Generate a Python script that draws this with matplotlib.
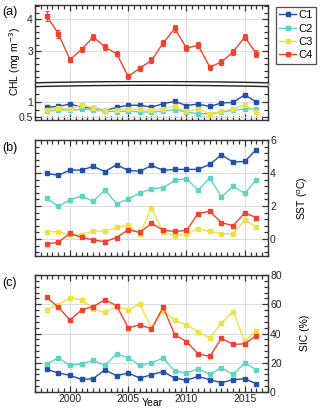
import numpy as np
import matplotlib
matplotlib.use("Agg")
import matplotlib.pyplot as plt
from matplotlib.ticker import MultipleLocator, FixedLocator

plt.rcParams['font.family'] = ['Liberation Sans', 'DejaVu Sans']

years = list(range(1998, 2017))
series_names = ["C1", "C2", "C3", "C4"]
colors = {"C1": "#2251a8", "C2": "#5fd4c2", "C3": "#efe044", "C4": "#f0432e"}

# (a) Chlorophyll (mg m-3)
chl_c1 = [0.83, 0.85, 0.93, 0.83, 0.80, 0.72, 0.82, 0.89, 0.89, 0.83, 0.94, 1.01, 0.88, 0.93, 0.85, 0.96, 0.98, 1.22, 0.99]
chl_c2 = [0.70, 0.75, 0.73, 0.76, 0.75, 0.70, 0.69, 0.70, 0.68, 0.67, 0.70, 0.75, 0.67, 0.62, 0.62, 0.67, 0.73, 0.77, 0.78]
chl_c3 = [0.75, 0.81, 0.76, 0.90, 0.80, 0.71, 0.75, 0.77, 0.76, 0.73, 0.78, 0.85, 0.70, 0.77, 0.62, 0.70, 0.77, 0.91, 0.68]
chl_c4 = [4.10, 3.55, 2.74, 3.06, 3.45, 3.13, 2.93, 2.22, 2.48, 2.72, 3.26, 3.71, 3.10, 3.19, 2.51, 2.67, 2.98, 3.45, 2.93]
chl_c4_err = [0.15, 0.12, 0.08, 0.08, 0.10, 0.10, 0.09, 0.07, 0.08, 0.09, 0.10, 0.12, 0.10, 0.10, 0.08, 0.08, 0.09, 0.10, 0.10]

# (b) SST (degC)
sst_c1 = [3.98, 3.86, 4.18, 4.18, 4.40, 4.08, 4.50, 4.16, 4.10, 4.46, 4.16, 4.22, 4.22, 4.22, 4.52, 5.10, 4.66, 4.70, 5.42]
sst_c2 = [2.48, 1.97, 2.38, 2.60, 2.28, 2.98, 2.14, 2.42, 2.78, 3.06, 3.10, 3.56, 3.66, 2.96, 3.70, 2.56, 3.20, 2.76, 3.60]
sst_c3 = [0.44, 0.44, 0.24, 0.26, 0.48, 0.48, 0.70, 0.82, 0.32, 1.88, 0.40, 0.20, 0.30, 0.62, 0.46, 0.32, 0.32, 1.16, 0.72]
sst_c4 = [-0.31, -0.20, 0.34, 0.10, -0.06, -0.16, 0.09, 0.56, 0.40, 0.95, 0.53, 0.46, 0.52, 1.54, 1.68, 1.00, 0.80, 1.58, 1.30]

# (c) SIC (%)
sic_c1 = [15.5, 13.0, 11.4, 8.6, 9.1, 15.2, 11.1, 13.0, 9.5, 11.8, 14.0, 9.5, 8.0, 10.7, 8.4, 6.4, 8.4, 9.0, 5.7]
sic_c2 = [19.3, 23.4, 18.2, 19.3, 21.6, 18.2, 26.1, 23.4, 18.2, 20.0, 23.2, 14.3, 13.0, 15.9, 12.0, 16.6, 12.0, 19.8, 15.2]
sic_c3 = [56.1, 59.8, 64.3, 63.0, 56.8, 54.5, 58.4, 56.1, 60.2, 43.5, 55.7, 48.9, 46.1, 40.9, 37.0, 47.0, 55.0, 34.8, 41.6]
sic_c4 = [64.8, 58.0, 49.3, 56.1, 58.4, 63.0, 59.1, 43.9, 45.9, 43.2, 58.0, 39.1, 34.5, 26.1, 24.3, 36.8, 32.5, 33.0, 38.6]

xticks = [2000, 2005, 2010, 2015]

W, H = 321, 408
fig = plt.figure(figsize=(W / 100, H / 100), dpi=100)


def rect(l, t, r, b):
    return [l / W, 1 - b / H, (r - l) / W, (b - t) / H]


L, R = 35, 268
spine_c = "#333333"
grid_c = "#dcdcdc"
fs = 7.5


def style(ax, ymajor, yminor, right_labels=False, xlabels=False):
    ax.set_xlim(1997, 2017)
    ax.xaxis.set_major_locator(FixedLocator(xticks))
    ax.xaxis.set_minor_locator(MultipleLocator(0.5))
    ax.yaxis.set_major_locator(FixedLocator(ymajor))
    ax.yaxis.set_minor_locator(MultipleLocator(yminor))
    ax.tick_params(which="both", direction="in", top=True, right=True, left=True, bottom=True,
                   labelsize=fs, color="#333333", labelcolor="#222222", width=0.9, pad=1.5)
    ax.tick_params(which="major", length=4.5)
    ax.tick_params(which="minor", length=2.8)
    ax.tick_params(axis="y", labelleft=not right_labels, labelright=right_labels)
    ax.tick_params(axis="x", labelbottom=xlabels)
    ax.grid(True, which="major", color=grid_c, lw=0.7)
    ax.set_axisbelow(True)
    for s in ax.spines.values():
        s.set_color(spine_c)
        s.set_linewidth(1.0)


def plot_series(ax, data):
    handles = []
    for name, vals in zip(series_names, data):
        h, = ax.plot(years, vals, color=colors[name], marker="s", ms=2.4, lw=1.0, label=name)
        handles.append(h)
    return handles


# Panel (a) upper and lower (broken axis)
ax_up = fig.add_axes(rect(L, 5, R, 84.5))
ax_lo = fig.add_axes(rect(L, 84.5, R, 120))
style(ax_up, [3, 4], 0.2)
style(ax_lo, [0.5, 1], 0.25)
ax_up.set_ylim(1.97, 4.44)
ax_lo.set_ylim(0.42, 1.55)
ax_up.spines["bottom"].set_visible(False)
ax_lo.spines["top"].set_visible(False)
ax_up.tick_params(which="both", bottom=False)
ax_lo.tick_params(which="both", top=False)
ax_lo.set_yticklabels(["0.5", "1"])

h1, = ax_lo.plot(years, chl_c1, color=colors["C1"], marker="s", ms=2.4, lw=1.0, label="C1")
h2, = ax_lo.plot(years, chl_c2, color=colors["C2"], marker="s", ms=2.4, lw=1.0, label="C2")
h3, = ax_lo.plot(years, chl_c3, color=colors["C3"], marker="s", ms=2.4, lw=1.0, label="C3")
h4, = ax_up.plot(years, chl_c4, color=colors["C4"], marker="s", ms=2.4, lw=1.0, label="C4")
ax_up.errorbar(years, chl_c4, yerr=chl_c4_err, fmt="none", ecolor=colors["C4"], elinewidth=0.8,
               capsize=1.6, capthick=0.8)

# break marks
brk = fig.add_axes(rect(L, 81, R, 88))
brk.set_xlim(0, 1)
brk.set_ylim(88, 81)
brk.axis("off")
xx = np.linspace(0, 1, 100)
bow = 1.3 * (1 - (2 * xx - 1) ** 2)
brk.fill_between(xx, 82.8 - bow, 86.6 - bow, color="white", lw=0)
brk.plot(xx, 82.8 - bow, color="#222222", lw=1.0, solid_capstyle="butt")
brk.plot(xx, 86.6 - bow, color="#222222", lw=1.0, solid_capstyle="butt")
brk.plot([0, 0], [81, 88], color=spine_c, lw=1.0)
brk.plot([1, 1], [81, 88], color=spine_c, lw=1.0)

fig.text(15 / W, 1 - 62 / H, "CHL (mg m$^{-3}$)", rotation=90, ha="center", va="center", fontsize=fs)
fig.text(2 / W, 1 - 12 / H, "(a)", ha="left", va="center", fontsize=9)

leg = fig.legend(handles=[h1, h2, h3, h4], loc="upper left", bbox_to_anchor=(276 / W, 1 - 7 / H),
                 bbox_transform=fig.transFigure, frameon=True, fancybox=False, fontsize=8,
                 handlelength=1.5, handletextpad=0.25, borderpad=0.3, labelspacing=0.3,
                 borderaxespad=0)
leg.get_frame().set_edgecolor("#222222")
leg.get_frame().set_linewidth(0.9)

# Panel (b)
ax_b = fig.add_axes(rect(L, 140, R, 256))
style(ax_b, [0, 2, 4, 6], 0.4, right_labels=True)
ax_b.set_ylim(-1.03, 6.0)
plot_series(ax_b, [sst_c1, sst_c2, sst_c3, sst_c4])
fig.text(303 / W, 1 - 198 / H, "SST ($^{o}$C)", rotation=90, ha="center", va="center", fontsize=fs)
fig.text(2 / W, 1 - 148 / H, "(b)", ha="left", va="center", fontsize=9)

# Panel (c)
ax_c = fig.add_axes(rect(L, 275, R, 392))
style(ax_c, [0, 20, 40, 60, 80], 4, right_labels=True, xlabels=True)
ax_c.set_ylim(0, 80)
plot_series(ax_c, [sic_c1, sic_c2, sic_c3, sic_c4])
ax_c.set_xticklabels([str(x) for x in xticks])
fig.text(305 / W, 1 - 333 / H, "SIC (%)", rotation=90, ha="center", va="center", fontsize=fs)
fig.text(2 / W, 1 - 283 / H, "(c)", ha="left", va="center", fontsize=9)
fig.text(152 / W, 1 - 407.5 / H, "Year", ha="center", va="bottom", fontsize=fs)

fig.savefig("out.png", dpi=100)
